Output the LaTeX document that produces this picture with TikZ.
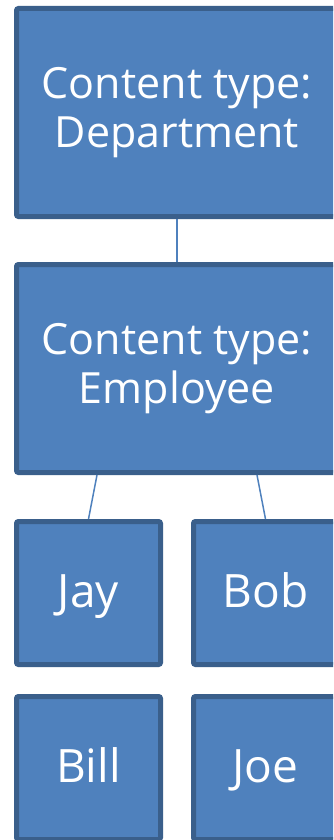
\documentclass[tikz,border=0pt]{standalone}
\usepackage{fontspec}
\setmainfont{Open Sans}
\usetikzlibrary{positioning}
\definecolor{boxfill}{HTML}{4F81BD}
\definecolor{boxline}{HTML}{3A5F8B}
\begin{document}
\begin{tikzpicture}[x=1pt, y=-1pt,
    box/.style={rectangle, draw=boxline, fill=boxfill, line width=5pt, rounded corners=2pt,
        text=white, align=center, font=\fontsize{43}{49}\selectfont, inner sep=0pt},
    bigbox/.style={box, minimum width=321pt, minimum height=208pt},
    smallbox/.style={box, minimum width=144pt, minimum height=143pt,
        font=\fontsize{46}{52}\selectfont, text height=34pt, text depth=6pt},
    link/.style={draw=boxfill, line width=1.5pt}]
    \useasboundingbox (0,0) rectangle (333,840);
    \clip (0,0) rectangle (333,840);

    % Define nodes
    \node[bigbox] (department) at (177,112.5) {Content type:\\Department};
    \node[bigbox] (employee) at (177,368.5) {Content type:\\Employee};
    \node[smallbox] (jay) at (88.5,593) {Jay};
    \node[smallbox] (bob) at (265.5,593) {Bob};
    \node[smallbox] (bill) at (88.5,768) {Bill};
    \node[smallbox] (joe) at (265.5,768) {Joe};

    % Connectors
    \draw[link] (department.south) -- (employee.north);
    \draw[link] ([xshift=-80pt]employee.south) -- (jay.north);
    \draw[link] ([xshift=80pt]employee.south) -- (bob.north);
\end{tikzpicture}
\end{document}
